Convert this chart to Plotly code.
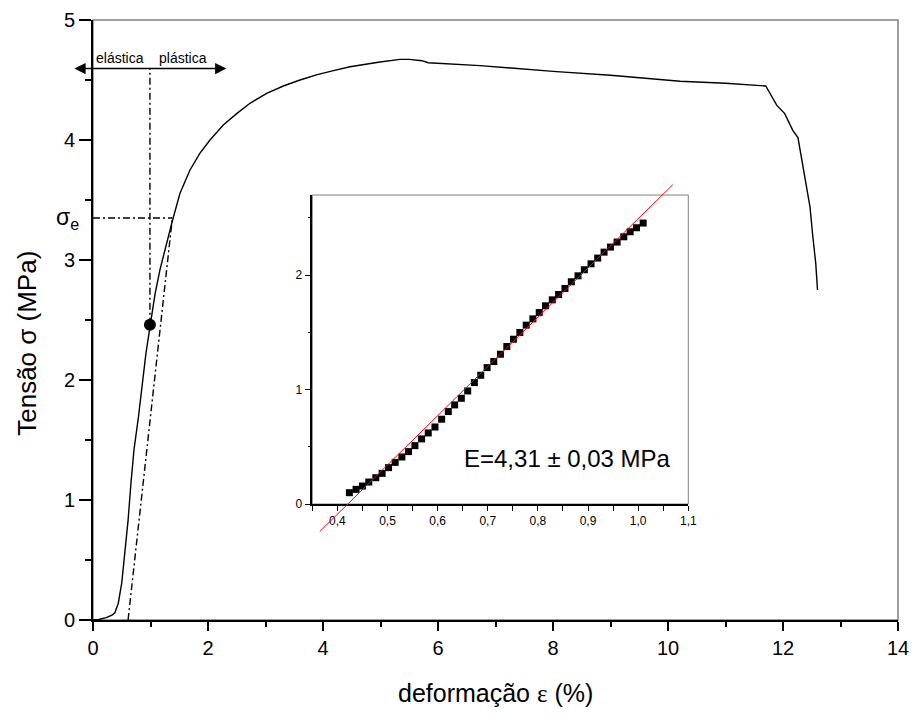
import plotly.graph_objects as go

# ---------------- data ----------------
strain = [0, 0.1, 0.23, 0.33, 0.38, 0.44, 0.50, 0.556, 0.61, 0.66, 0.713, 0.79, 0.85,
          0.92, 0.99, 1.08, 1.165, 1.25, 1.34, 1.40, 1.513, 1.687, 1.861, 2.035, 2.266,
          2.499, 2.73, 3.02, 3.31, 3.6, 3.9, 4.2, 4.47, 4.99, 5.2, 5.34, 5.5, 5.72, 5.83,
          6.73, 8.0, 9.0, 10.21, 11.0, 11.70, 11.89, 12.03, 12.17, 12.26, 12.38, 12.47,
          12.52, 12.57, 12.60]
stress = [0, 0.004, 0.02, 0.04, 0.06, 0.14, 0.31, 0.58, 0.83, 1.14, 1.42, 1.69, 1.94,
          2.22, 2.44, 2.72, 2.92, 3.09, 3.25, 3.36, 3.556, 3.75, 3.89, 4.00, 4.125, 4.22,
          4.306, 4.389, 4.45, 4.50, 4.545, 4.58, 4.61, 4.65, 4.665, 4.672, 4.672, 4.661,
          4.644, 4.62, 4.572, 4.539, 4.49, 4.473, 4.45, 4.29, 4.22, 4.08, 4.02, 3.69,
          3.44, 3.19, 2.97, 2.75]

offset_x = [0.61, 1.38]
offset_y = [0.0, 3.35]
yield_h_x = [0.0, 1.38]
yield_h_y = [3.35, 3.35]
limit_v_x = [0.99, 0.99]
limit_v_y = [2.46, 4.595]
limit_pt_x = [0.99]
limit_pt_y = [2.46]
arrow_y = 4.595
arrow_x_left = -0.35
arrow_x_right = 2.32

inset_x = [0.424, 0.4373, 0.45, 0.4627, 0.4767, 0.4893, 0.502, 0.5153, 0.5287, 0.542,
           0.5547, 0.568, 0.5813, 0.5947, 0.608, 0.6213, 0.634, 0.6473, 0.66, 0.6733,
           0.686, 0.6987, 0.712, 0.7253, 0.738, 0.7513, 0.764, 0.7767, 0.79, 0.8027,
           0.8153, 0.8287, 0.8413, 0.854, 0.8667, 0.88, 0.8927, 0.906, 0.9193, 0.932,
           0.9447, 0.958, 0.9713, 0.984, 0.9967, 1.01]
inset_y = [0.099, 0.128, 0.157, 0.192, 0.230, 0.268, 0.318, 0.364, 0.411, 0.458, 0.510,
           0.569, 0.621, 0.673, 0.741, 0.808, 0.866, 0.924, 0.988, 1.061, 1.125, 1.192,
           1.245, 1.309, 1.376, 1.440, 1.499, 1.563, 1.618, 1.673, 1.732, 1.784, 1.831,
           1.883, 1.942, 1.994, 2.047, 2.099, 2.149, 2.201, 2.245, 2.289, 2.335, 2.379,
           2.414, 2.455]
fit_x = [0.365, 1.069]
fit_y = [-0.24, 2.79]

main_xticks = [0, 2, 4, 6, 8, 10, 12, 14]
main_yticks = [0, 1, 2, 3, 4, 5]
inset_xticks = [0.4, 0.5, 0.6, 0.7, 0.8, 0.9, 1.0, 1.1]
inset_xticktext = ["0,4", "0,5", "0,6", "0,7", "0,8", "0,9", "1,0", "1,1"]
inset_yticks = [0, 1, 2]

# ---------------- layout geometry ----------------
# the page body keeps its default 8px margin, so the figure is drawn 8px smaller and shifted
W, H = 909, 706
ML, MR, MT, MB = 85, 19, 12, 94
inset_dom_x = [0.2724, 0.7395]
inset_dom_y = [0.1933, 0.7083]
inset_xr = [0.35, 1.1]
inset_yr = [0.0, 2.7]
# independent invisible subplot with the inset's scale, taller, so the fit line can leave the box
unit = (inset_dom_y[1] - inset_dom_y[0]) / (inset_yr[1] - inset_yr[0])
ext_yr = [-0.3, 2.85]
ext_dom = [inset_dom_y[0] + (ext_yr[0] - inset_yr[0]) * unit,
           inset_dom_y[1] + (ext_yr[1] - inset_yr[1]) * unit]

FONT = "Liberation Sans, Arial, Helvetica, sans-serif"
DASHDOT = "7px,3px,2px,3px"

fig = go.Figure()

fig.add_trace(go.Scatter(x=strain, y=stress, mode="lines",
                         line=dict(color="black", width=1.4), showlegend=False))
for xs, ys in [(offset_x, offset_y), (yield_h_x, yield_h_y), (limit_v_x, limit_v_y)]:
    fig.add_trace(go.Scatter(x=xs, y=ys, mode="lines", showlegend=False,
                             line=dict(color="black", width=1.4, dash=DASHDOT)))
fig.add_trace(go.Scatter(x=limit_pt_x, y=limit_pt_y, mode="markers", showlegend=False,
                         marker=dict(color="black", size=12), cliponaxis=False))

fig.add_trace(go.Scatter(x=inset_x, y=inset_y, mode="markers", showlegend=False,
                         xaxis="x2", yaxis="y2", cliponaxis=False,
                         marker=dict(symbol="square", color="black", size=7)))
fig.add_trace(go.Scatter(x=fit_x, y=fit_y, mode="lines", showlegend=False,
                         xaxis="x3", yaxis="y3",
                         line=dict(color="red", width=1)))

axis_common = dict(showgrid=False, zeroline=False, showline=True, linecolor="black",
                   ticks="outside", tickcolor="black", automargin=False)

fig.update_layout(
    width=W, height=H,
    margin=dict(l=ML, r=MR, t=MT, b=MB, autoexpand=False),
    paper_bgcolor="white", plot_bgcolor="rgba(0,0,0,0)",
    font=dict(family=FONT, color="black"),
    showlegend=False,
    xaxis=dict(**axis_common, range=[0, 14], tickvals=main_xticks, linewidth=2,
               ticklen=9, tickwidth=2, tickfont=dict(size=20),
               minor=dict(dtick=1, ticklen=5, tickwidth=2, ticks="outside", tickcolor="black")),
    yaxis=dict(**axis_common, range=[0, 5], tickvals=main_yticks, linewidth=2,
               ticklen=12, tickwidth=2, tickfont=dict(size=20),
               minor=dict(dtick=0.5, ticklen=6, tickwidth=2, ticks="outside", tickcolor="black")),
    xaxis2=dict(**axis_common, domain=inset_dom_x, anchor="y2", range=inset_xr,
                tickvals=inset_xticks, ticktext=inset_xticktext, linewidth=1.5,
                ticklen=5, tickwidth=1, tickfont=dict(size=12),
                minor=dict(dtick=0.05, tick0=0.35, ticklen=5, tickwidth=1,
                           ticks="outside", tickcolor="black")),
    yaxis2=dict(**axis_common, domain=inset_dom_y, anchor="x2", range=inset_yr,
                tickvals=inset_yticks, linewidth=1.5, ticklen=6, tickwidth=1,
                tickfont=dict(size=12),
                minor=dict(dtick=0.5, ticklen=3, tickwidth=1, ticks="outside",
                           tickcolor="black")),
    xaxis3=dict(domain=inset_dom_x, anchor="y3", range=inset_xr, visible=False,
                showgrid=False, zeroline=False, automargin=False),
    yaxis3=dict(domain=ext_dom, anchor="x3", range=ext_yr, visible=False,
                showgrid=False, zeroline=False, automargin=False),
)

fig.add_shape(type="rect", xref="x domain", yref="y domain", x0=0, x1=1, y0=0, y1=1,
              line=dict(color="#808080", width=1.5), layer="below")
fig.add_shape(type="rect", xref="x2 domain", yref="y2 domain", x0=0, x1=1, y0=0, y1=1,
              line=dict(color="#808080", width=1), layer="below")

ann = []
ann.append(dict(text='deformação <span style="font-family:Liberation Serif">ε</span> (%)',
                xref="paper", yref="paper", x=0.5, y=-0.122, xanchor="center",
                yanchor="middle", showarrow=False, font=dict(size=25)))
ann.append(dict(text="Tensão σ (MPa)", xref="paper", yref="paper", x=-0.082, y=0.462,
                textangle=-90, xanchor="center", yanchor="middle", showarrow=False,
                font=dict(size=26)))
ann.append(dict(text="σ<sub>e</sub>", xref="paper", yref="y", x=-0.015, y=3.35,
                xanchor="right", yanchor="middle", showarrow=False, font=dict(size=23)))
ann.append(dict(text="elástica", xref="x", yref="y", x=0.47, y=4.68, showarrow=False,
                xanchor="center", yanchor="middle", font=dict(size=14)))
ann.append(dict(text="plástica", xref="x", yref="y", x=1.565, y=4.68, showarrow=False,
                xanchor="center", yanchor="middle", font=dict(size=14)))
ann.append(dict(text="", x=arrow_x_right, y=arrow_y, ax=arrow_x_left, ay=arrow_y,
                xref="x", yref="y", axref="x", ayref="y", showarrow=True,
                arrowside="end+start", arrowhead=2, arrowsize=1.5, arrowwidth=1.5,
                arrowcolor="black", standoff=0, startstandoff=0, startarrowhead=2,
                startarrowsize=1.5))
ann.append(dict(text="E=4,31 ± 0,03 MPa", xref="x2", yref="y2", x=0.859, y=0.40,
                showarrow=False, xanchor="center", yanchor="middle", font=dict(size=24)))
fig.update_layout(annotations=ann)

fig.write_html("out.html")
